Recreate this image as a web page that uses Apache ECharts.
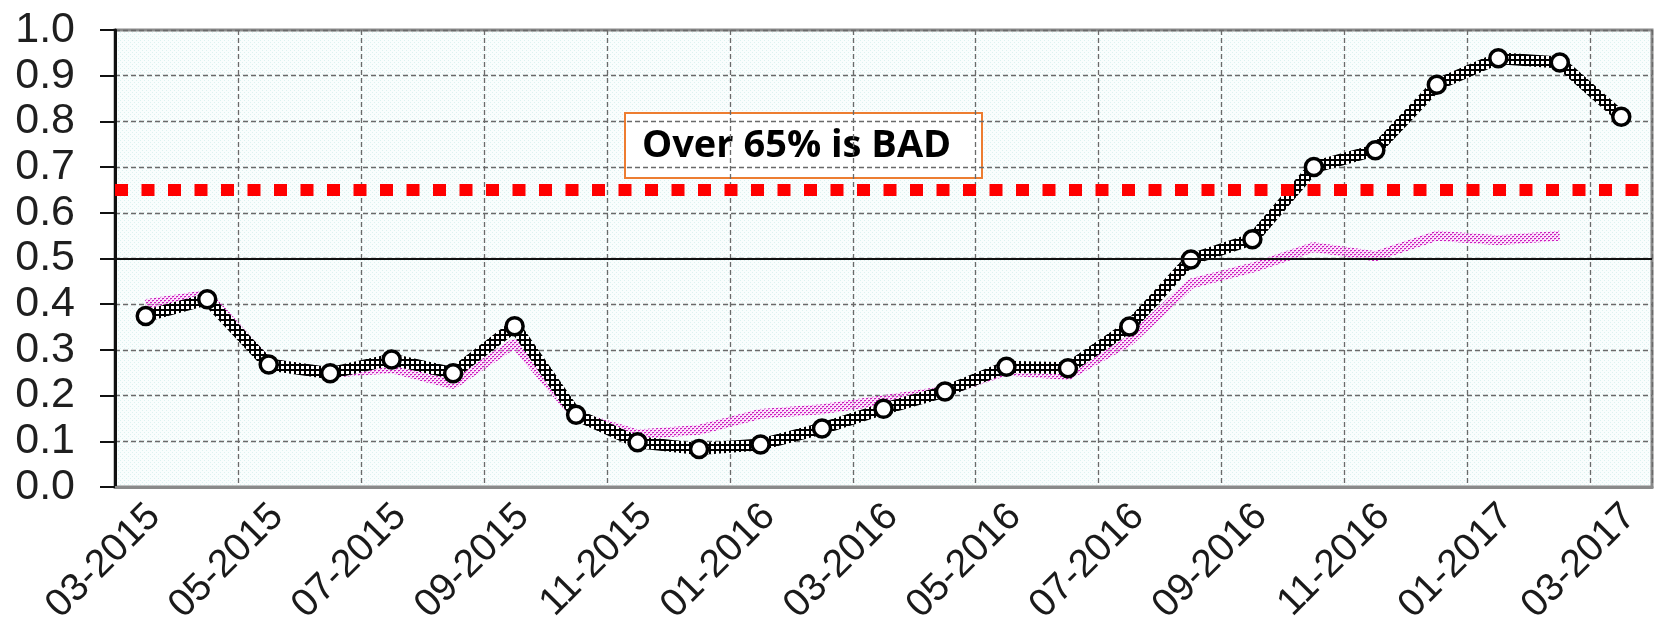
<!DOCTYPE html>
<html>
<head>
<meta charset="utf-8">
<script src="https://cdn.jsdelivr.net/npm/echarts@6.0.0/dist/echarts.min.js"></script>
<style>
  html, body { margin: 0; padding: 0; background: #fff; }
  #chart { width: 1654px; height: 631px; }
</style>
</head>
<body>
<div id="chart"></div>
<script>
const months = [
  '03-2015', '04-2015', '05-2015', '06-2015', '07-2015', '08-2015', '09-2015',
  '10-2015', '11-2015', '12-2015', '01-2016', '02-2016', '03-2016', '04-2016',
  '05-2016', '06-2016', '07-2016', '08-2016', '09-2016', '10-2016', '11-2016',
  '12-2016', '01-2017', '02-2017', '03-2017'
]
const mainValues = [
  0.374, 0.411, 0.268, 0.249, 0.279, 0.249, 0.352, 0.158, 0.098, 0.083, 0.093,
  0.128, 0.171, 0.209, 0.263, 0.260, 0.351, 0.498, 0.542, 0.700, 0.737, 0.880,
  0.938, 0.929, 0.810
]
const compareValues = [
  0.400, 0.420, 0.270, 0.250, 0.260, 0.225, 0.315, 0.155, 0.115, 0.125, 0.160,
  0.170, 0.190, 0.210, 0.255, 0.245, 0.320, 0.445, 0.480, 0.525, 0.505, 0.550,
  0.540, 0.550, null
]
const midLine = 0.5
const badLimit = 0.65
const noteText = 'Over 65% is BAD'

const axisFont = '"Liberation Sans", Arial, sans-serif'

function makePattern (size, paint) {
  const c = document.createElement('canvas')
  c.width = size
  c.height = size
  paint(c.getContext('2d'))
  return { image: c, repeat: 'repeat' }
}

// checkered black line
const blackTexture = makePattern(5, ctx => {
  ctx.fillStyle = '#000'
  ctx.fillRect(0, 0, 5, 5)
  ctx.fillStyle = '#fff'
  ctx.fillRect(1, 1, 3, 3)
})

// dotted magenta line
const pinkTexture = makePattern(4, ctx => {
  ctx.fillStyle = 'rgba(252, 200, 248, 0.45)'
  ctx.fillRect(0, 0, 4, 4)
  ctx.fillStyle = '#c81fbd'
  ctx.fillRect(0, 0, 2, 1)
  ctx.fillRect(2, 2, 2, 1)
  ctx.fillStyle = '#f08de8'
  ctx.fillRect(0, 1, 1, 1)
  ctx.fillRect(2, 3, 1, 1)
})

// faint cyan dotted plot background
const plotTexture = makePattern(4, ctx => {
  ctx.fillStyle = '#f9fdfd'
  ctx.fillRect(0, 0, 4, 4)
  ctx.fillStyle = '#dcf2f0'
  ctx.fillRect(0, 0, 1, 1)
  ctx.fillRect(2, 2, 1, 1)
})

const chart = echarts.init(document.getElementById('chart'))

const option = {
  animation: false,
  grid: {
    left: 115,
    right: 2,
    top: 30,
    bottom: 144,
    outerBoundsMode: 'none',
    show: true,
    backgroundColor: plotTexture,
    borderColor: '#8a8a8a',
    borderWidth: 3
  },
  xAxis: {
    type: 'category',
    boundaryGap: true,
    data: months,
    axisLine: { show: true, lineStyle: { color: '#8a8a8a', width: 3 } },
    axisTick: { show: false },
    axisLabel: {
      interval: 1,
      rotate: 45,
      margin: 32,
      padding: [0, -12, 0, 0],
      fontSize: 39,
      fontFamily: axisFont,
      color: '#1a1a1a'
    },
    splitLine: {
      show: true,
      interval: 1,
      lineStyle: { color: '#6a6a6a', width: 1.3, type: [5, 3] }
    }
  },
  yAxis: {
    type: 'value',
    min: 0,
    max: 1,
    interval: 0.1,
    axisLine: { show: true, lineStyle: { color: '#111', width: 3 } },
    axisTick: { show: true, length: 15, lineStyle: { color: '#111', width: 2 } },
    axisLabel: {
      margin: 40,
      fontSize: 43,
      fontFamily: axisFont,
      color: '#1f1f1f',
      formatter: v => v.toFixed(1)
    },
    splitLine: {
      show: true,
      lineStyle: { color: '#6a6a6a', width: 1.3, type: [5, 3] }
    }
  },
  series: [
    {
      type: 'line',
      data: [],
      z: 1,
      markLine: {
        silent: true,
        symbol: 'none',
        label: { show: false },
        lineStyle: { color: '#111', width: 2, type: 'solid' },
        data: [{ yAxis: midLine }]
      }
    },
    {
      type: 'line',
      data: compareValues,
      z: 2,
      showSymbol: false,
      lineStyle: { width: 10, color: pinkTexture }
    },
    {
      type: 'line',
      data: mainValues,
      z: 3,
      symbol: 'circle',
      symbolSize: 17,
      itemStyle: { color: '#fff', borderColor: '#000', borderWidth: 3.5 },
      lineStyle: { width: 12, color: blackTexture }
    },
    {
      type: 'line',
      data: [],
      z: 4,
      markLine: {
        silent: true,
        symbol: 'none',
        label: { show: false },
        lineStyle: { color: '#ff0000', width: 12, type: [13, 13.5], cap: 'butt' },
        data: [{ yAxis: badLimit }]
      }
    }
  ],
  graphic: [{
    type: 'group',
    left: 624,
    top: 112,
    z: 100,
    children: [
      {
        type: 'rect',
        shape: { x: 0, y: 0, width: 357, height: 65 },
        style: { fill: '#fff', stroke: '#ed7d31', lineWidth: 2 }
      },
      {
        type: 'text',
        x: 17,
        y: 33,
        style: {
          text: noteText,
          font: 'bold 38px "Open Sans", sans-serif',
          fill: '#000',
          verticalAlign: 'middle'
        }
      }
    ]
  }]
}

chart.setOption(option)
</script>
</body>
</html>
